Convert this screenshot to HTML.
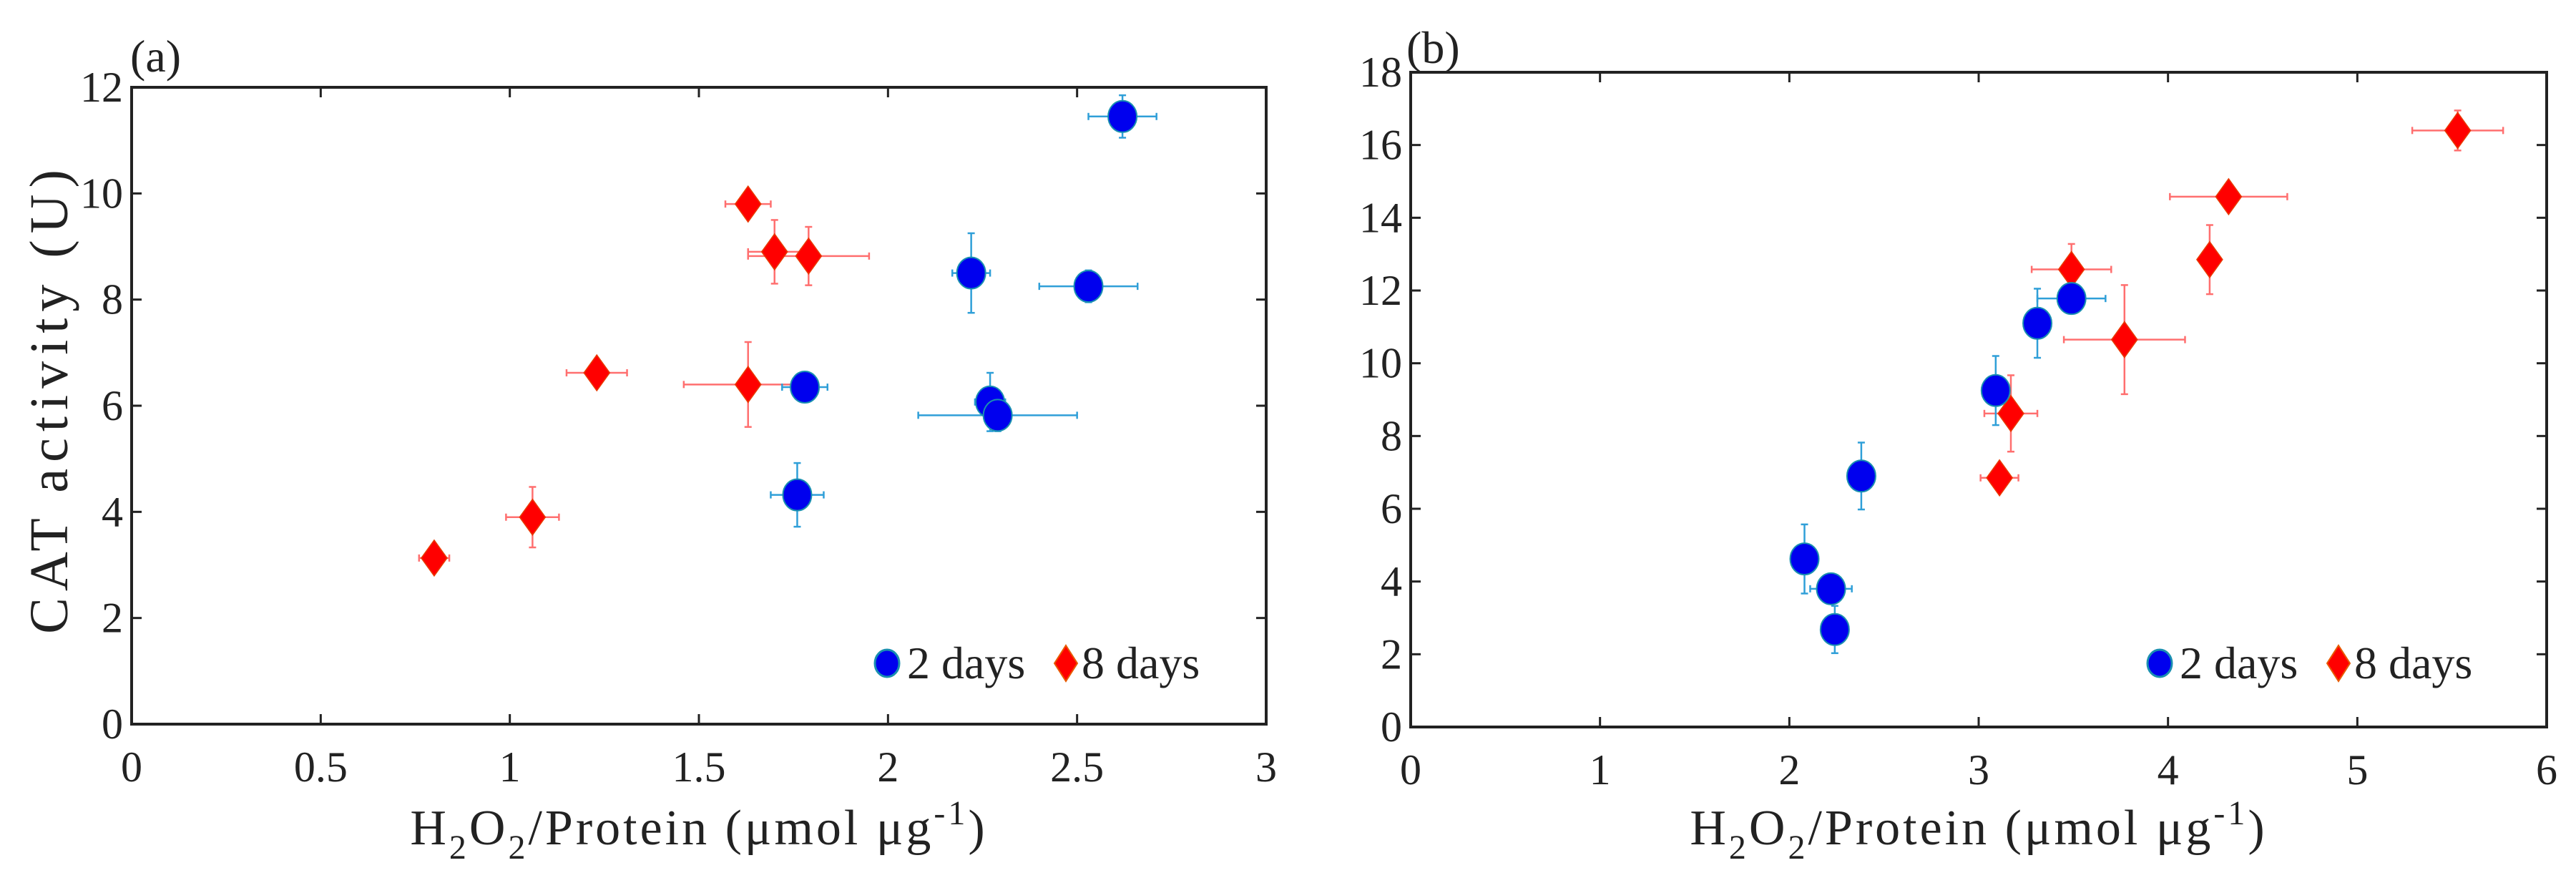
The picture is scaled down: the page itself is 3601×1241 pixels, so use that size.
<!DOCTYPE html>
<html><head><meta charset="utf-8"><style>
html,body{margin:0;padding:0;background:#fff;}
svg{display:block;font-family:"Liberation Serif",serif;}
</style></head><body>
<svg id="chart" width="3601" height="1241" viewBox="0 0 3601 1241" xmlns="http://www.w3.org/2000/svg"></svg>
<script>
const aBlueX=[2.62,2.22,2.53,1.78,2.27,2.29,1.76];
const aBlueY=[11.45,8.5,8.25,6.35,6.07,5.82,4.32];
const aBlueXErr=[0.09,0.05,0.13,0.06,0.04,0.21,0.07];
const aBlueYErr=[0.4,0.75,0.3,0.25,0.55,0.3,0.6];
const aRedX=[1.63,1.70,1.79,1.23,1.63,1.06,0.80];
const aRedY=[9.8,8.9,8.82,6.62,6.4,3.9,3.13];
const aRedXErr=[0.06,0.07,0.16,0.08,0.17,0.07,0.04];
const aRedYErr=[0.15,0.6,0.55,0.15,0.8,0.57,0.1];
const bBlueX=[3.49,3.31,3.09,2.38,2.08,2.22,2.24];
const bBlueY=[11.78,11.1,9.25,6.9,4.62,3.8,2.68];
const bBlueXErr=[0.18,0.02,0.02,0.02,0.02,0.11,0.02];
const bBlueYErr=[0.3,0.95,0.95,0.92,0.95,0.1,0.65];
const bRedX=[5.53,4.32,3.49,4.22,3.77,3.17,3.11];
const bRedY=[16.4,14.58,12.58,12.85,10.65,8.62,6.85];
const bRedXErr=[0.24,0.31,0.21,0.03,0.32,0.14,0.1];
const bRedYErr=[0.55,0.1,0.7,0.95,1.5,1.05,0.35];
const aXTicks=["0","0.5","1","1.5","2","2.5","3"];
const aYTicks=["0","2","4","6","8","10","12"];
const bXTicks=["0","1","2","3","4","5","6"];
const bYTicks=["0","2","4","6","8","10","12","14","16","18"];

const NS="http://www.w3.org/2000/svg";
const svg=document.getElementById('chart');
function mk(tag,attrs,parent){const e=document.createElementNS(NS,tag);for(const k in attrs)e.setAttribute(k,attrs[k]);(parent||svg).appendChild(e);return e;}

function panel(cfg){
  const g=mk('g',{});
  
  
  const {L,R,T,B,xmax,ymax}=cfg;
  const sx=v=>L+(R-L)*v/xmax, sy=v=>B-(B-T)*v/ymax;
  cfg.xt.forEach(t=>{const x=sx(+t);
    mk('line',{x1:x,x2:x,y1:B,y2:B-14,stroke:'#222','stroke-width':3},g);
    mk('line',{x1:x,x2:x,y1:T,y2:T+14,stroke:'#222','stroke-width':3},g);
    const tx=mk('text',{x:x,y:B+80,'font-size':60,'text-anchor':'middle',fill:'#222'},g);tx.textContent=t;
    
    
  });
  cfg.yt.forEach(t=>{const y=sy(+t);
    mk('line',{x1:L,x2:L+14,y1:y,y2:y,stroke:'#222','stroke-width':3},g);
    mk('line',{x1:R,x2:R-14,y1:y,y2:y,stroke:'#222','stroke-width':3},g);
    const tx=mk('text',{x:L-12,y:y+20,'font-size':60,'text-anchor':'end',fill:'#222'},g);tx.textContent=t;
    
    
  });
  const box=mk('rect',{x:L,y:T,width:R-L,height:B-T,fill:'none',stroke:'#222','stroke-width':4},g);
  
  
  function err(x,y,xe,ye,col){
    const cap=5;
    mk('line',{x1:sx(x-xe),x2:sx(x+xe),y1:sy(y),y2:sy(y),stroke:col,'stroke-width':2.5},g);
    mk('line',{x1:sx(x),x2:sx(x),y1:sy(y-ye),y2:sy(y+ye),stroke:col,'stroke-width':2.5},g);
    [x-xe,x+xe].forEach(v=>mk('line',{x1:sx(v),x2:sx(v),y1:sy(y)-cap,y2:sy(y)+cap,stroke:col,'stroke-width':2.5},g));
    [y-ye,y+ye].forEach(v=>mk('line',{x1:sx(x)-cap,x2:sx(x)+cap,y1:sy(v),y2:sy(v),stroke:col,'stroke-width':2.5},g));
  }
  cfg.rx.forEach((x,i)=>err(x,cfg.ry[i],cfg.rxe[i],cfg.rye[i],'#ff6f6f'));
  cfg.bx.forEach((x,i)=>err(x,cfg.by[i],cfg.bxe[i],cfg.bye[i],'#2f9fd8'));
  cfg.rx.forEach((x,i)=>{const cx=sx(x),cy=sy(cfg.ry[i]);
    const d=mk('polygon',{points:`${cx},${cy-25} ${cx+18},${cy} ${cx},${cy+25} ${cx-18},${cy}`,fill:'#ff0000',stroke:'#e83a00','stroke-width':1.5},g);
    
    
  });
  cfg.bx.forEach((x,i)=>{
    const c=mk('ellipse',{cx:sx(x),cy:sy(cfg.by[i]),rx:20,ry:22,fill:'#0000ee',stroke:'#1a8fb0','stroke-width':2},g);
    
    
  });
  const lg=mk('g',{},g);
  
  
  mk('ellipse',{cx:cfg.lgx,cy:927,rx:17,ry:19,fill:'#0000ee',stroke:'#1a8fb0','stroke-width':3},lg);
  const t1=mk('text',{x:cfg.lgx+28,y:948,'font-size':64,fill:'#222'},lg);t1.textContent='2 days';
  const dx=cfg.lgx+250;
  mk('polygon',{points:`${dx},902 ${dx+16},927 ${dx},952 ${dx-16},927`,fill:'#ff0000',stroke:'#e85a00','stroke-width':2},lg);
  const t2=mk('text',{x:dx+22,y:948,'font-size':64,fill:'#222'},lg);t2.textContent='8 days';
  const xl=mk('text',{x:(L+R)/2,y:1180,'font-size':70,'letter-spacing':4,'text-anchor':'middle',fill:'#222'},g);
  xl.innerHTML='H<tspan font-size="48" dy="20">2</tspan><tspan dy="-20">O</tspan><tspan font-size="48" dy="20">2</tspan><tspan dy="-20">/Protein (μmol μg</tspan><tspan font-size="48" dy="-28">-1</tspan><tspan dy="28">)</tspan>';
  
  
  const pl=mk('text',{x:cfg.plx,y:cfg.ply,'font-size':64,fill:'#222'},g);pl.textContent=cfg.label;
  
  
}
panel({name:'panel-a',L:184,R:1770,T:122,B:1012,xmax:3,ymax:12,xt:aXTicks,yt:aYTicks,
  bx:aBlueX,by:aBlueY,bxe:aBlueXErr,bye:aBlueYErr,rx:aRedX,ry:aRedY,rxe:aRedXErr,rye:aRedYErr,lgx:1240,label:'(a)',plx:182,ply:100});
panel({name:'panel-b',L:1972,R:3560,T:101,B:1016,xmax:6,ymax:18,xt:bXTicks,yt:bYTicks,
  bx:bBlueX,by:bBlueY,bxe:bBlueXErr,bye:bBlueYErr,rx:bRedX,ry:bRedY,rxe:bRedXErr,rye:bRedYErr,lgx:3019,label:'(b)',plx:1966,ply:88});
const yl=mk('text',{x:0,y:0,'font-size':76,'letter-spacing':9,'text-anchor':'middle',fill:'#222',transform:'translate(94,557) rotate(-90)'});
yl.textContent='CAT activity (U)';


</script>
</body></html>
